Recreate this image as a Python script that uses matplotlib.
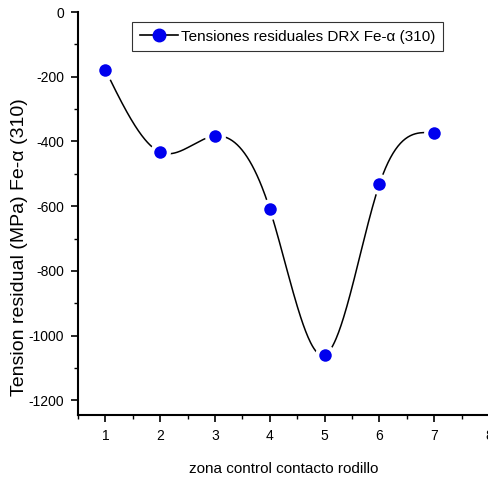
import numpy as np
import matplotlib
matplotlib.use("Agg")
import matplotlib.pyplot as plt
from matplotlib.ticker import MultipleLocator
from matplotlib.lines import Line2D

plt.rcParams['font.family'] = ['Liberation Sans', 'DejaVu Sans']
plt.rcParams['axes.unicode_minus'] = False

zona = [1, 2, 3, 4, 5, 6, 7]
tension = [-179, -433, -383, -609, -1060, -532, -374]


def natural_spline(x, y, xs):
    # natural cubic spline through all points (numpy only)
    x = np.asarray(x, float)
    y = np.asarray(y, float)
    n = len(x)
    h = np.diff(x)
    A = np.zeros((n, n))
    b = np.zeros(n)
    A[0, 0] = A[-1, -1] = 1
    for i in range(1, n - 1):
        A[i, i - 1] = h[i - 1]
        A[i, i] = 2 * (h[i - 1] + h[i])
        A[i, i + 1] = h[i]
        b[i] = 3 * ((y[i + 1] - y[i]) / h[i] - (y[i] - y[i - 1]) / h[i - 1])
    c = np.linalg.solve(A, b)
    out = np.empty_like(xs)
    for k, xv in enumerate(xs):
        i = min(np.searchsorted(x, xv, side='right') - 1, n - 2)
        i = max(i, 0)
        dx = xv - x[i]
        bi = (y[i + 1] - y[i]) / h[i] - h[i] * (2 * c[i] + c[i + 1]) / 3
        di = (c[i + 1] - c[i]) / (3 * h[i])
        out[k] = y[i] + bi * dx + c[i] * dx ** 2 + di * dx ** 3
    return out


xs = np.linspace(zona[0], zona[-1], 400)
ys = natural_spline(zona, tension, xs)

fig = plt.figure(figsize=(4.89, 4.78), dpi=100)
ax = fig.add_axes([78 / 489, 63 / 478, 411 / 489, 403 / 478])

ax.plot(xs, ys, color='black', lw=1.1, zorder=2)
# white halo under the markers gives the gap around each point
ax.plot(zona, tension, 'o', color='white', ms=15, mew=0, zorder=3)
ax.plot(zona, tension, 'o', color='#0000ee', ms=9, mew=0, zorder=4)

h = Line2D([], [], color='black', lw=1.2, marker='o', ms=9,
           markerfacecolor='#0000ee', markeredgecolor='#0000ee')
leg = ax.legend([h], ['Tensiones residuales DRX Fe-α (310)'], loc='upper left',
                bbox_to_anchor=(54 / 411, 1 - 10 / 403), fontsize=11, frameon=True,
                fancybox=False, edgecolor='black', handlelength=2.5,
                handletextpad=0.2, borderpad=0.5, borderaxespad=0)
leg.get_frame().set_linewidth(0.8)

ax.set_xlim(0.5, 8)
ax.set_ylim(-1245, 0)
ax.xaxis.set_major_locator(MultipleLocator(1))
ax.xaxis.set_minor_locator(MultipleLocator(0.5))
ax.yaxis.set_major_locator(MultipleLocator(200))
ax.yaxis.set_minor_locator(MultipleLocator(100))
ax.tick_params(which='major', direction='out', length=5, width=1.2, labelsize=10, pad=5)
ax.tick_params(which='minor', direction='out', length=3, width=1.0)
ax.spines['top'].set_visible(False)
ax.spines['right'].set_visible(False)
ax.spines['left'].set_linewidth(1.5)
ax.spines['bottom'].set_linewidth(1.5)

ax.set_xlabel('zona control contacto rodillo', fontsize=11, labelpad=14)
ax.set_ylabel('Tension residual (MPa) Fe-α (310)', fontsize=14)
# label sits lower than the axis centre in the original
ax.yaxis.set_label_coords(-50 / 411, (415 - 247) / 403)

fig.savefig('out.png', dpi=100)
